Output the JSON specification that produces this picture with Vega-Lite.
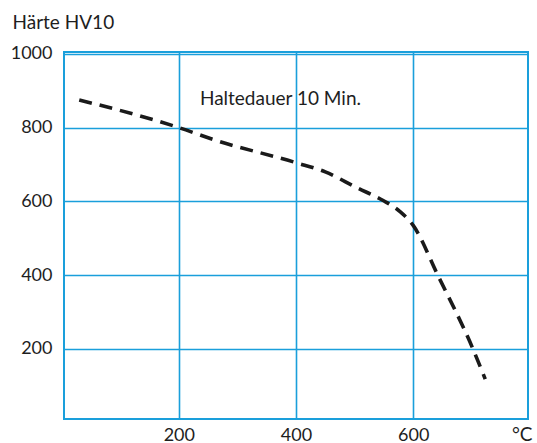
{
  "$schema": "https://vega.github.io/schema/vega-lite/v6.json",
  "autosize": "none",
  "width": 464,
  "height": 367,
  "padding": {"left": 64, "top": 52, "right": 9, "bottom": 24},
  "background": "white",
  "config": {
    "font": "Lato",
    "view": {"stroke": "#1a9fdb", "strokeWidth": 2},
    "axis": {
      "grid": true,
      "gridColor": "#1a9fdb",
      "gridWidth": 1.6,
      "gridOpacity": 1,
      "domain": false,
      "ticks": false,
      "format": "d",
      "labelFont": "Lato",
      "labelFontSize": 18,
      "labelColor": "#1e1e1e",
      "titleFont": "Lato",
      "titleFontSize": 19,
      "titleFontWeight": "normal",
      "titleColor": "#1e1e1e"
    }
  },
  "datasets": {
    "curve": [
      {"temp": 30, "hv": 875},
      {"temp": 200, "hv": 800},
      {"temp": 260, "hv": 767},
      {"temp": 400, "hv": 705},
      {"temp": 450, "hv": 680},
      {"temp": 504, "hv": 637},
      {"temp": 548, "hv": 603},
      {"temp": 577, "hv": 573},
      {"temp": 600, "hv": 535},
      {"temp": 642, "hv": 400},
      {"temp": 702, "hv": 200},
      {"temp": 723, "hv": 118}
    ],
    "note": [
      {"temp": 236, "hv": 861, "text": "Haltedauer 10 Min."}
    ]
  },
  "layer": [
    {
      "data": {"name": "curve"},
      "mark": {
        "type": "line",
        "color": "#1a1a1a",
        "strokeWidth": 3.6,
        "strokeDash": [13, 8],
        "strokeCap": "butt",
        "interpolate": "monotone"
      },
      "encoding": {
        "x": {
          "field": "temp",
          "type": "quantitative",
          "scale": {"domain": [4, 796], "nice": false, "zero": false},
          "axis": {
            "values": [200, 400, 600],
            "labelBaseline": "alphabetic",
            "labelPadding": 21,
            "title": "°C",
            "titleAnchor": "end",
            "titleAlign": "right",
            "titleX": 468,
            "titleY": 21,
            "titleBaseline": "alphabetic",
            "titleFontSize": 19
          }
        },
        "y": {
          "field": "hv",
          "type": "quantitative",
          "scale": {"domain": [10, 1005], "nice": false, "zero": false},
          "axis": {
            "values": [200, 400, 600, 800, 1000],
            "labelPadding": 12,
            "title": "Härte HV10",
            "titleAngle": 0,
            "titleAlign": "left",
            "titleBaseline": "alphabetic",
            "titleX": -52,
            "titleY": -24
          }
        }
      }
    },
    {
      "data": {"name": "note"},
      "mark": {
        "type": "text",
        "align": "left",
        "baseline": "alphabetic",
        "font": "Lato",
        "fontSize": 19,
        "color": "#1e1e1e"
      },
      "encoding": {
        "x": {"field": "temp", "type": "quantitative"},
        "y": {"field": "hv", "type": "quantitative"},
        "text": {"field": "text"}
      }
    }
  ]
}
